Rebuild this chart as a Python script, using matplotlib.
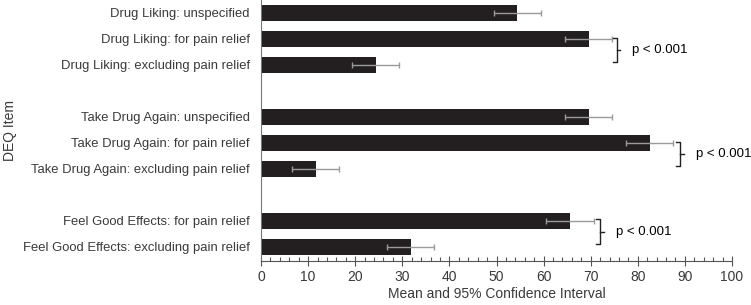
import numpy as np
import matplotlib.pyplot as plt
from matplotlib.ticker import MultipleLocator

plt.rcParams['font.family'] = ['Liberation Sans', 'DejaVu Sans']

# data
labels = ['Drug Liking: unspecified', 'Drug Liking: for pain relief', 'Drug Liking: excluding pain relief',
          'Take Drug Again: unspecified', 'Take Drug Again: for pain relief', 'Take Drug Again: excluding pain relief',
          'Feel Good Effects: for pain relief', 'Feel Good Effects: excluding pain relief']
positions = [0, 1, 2, 4, 5, 6, 8, 9]
means = [54.4, 69.6, 24.4, 69.6, 82.5, 11.6, 65.6, 31.8]
ci_half = [5.0, 5.0, 5.0, 5.0, 5.0, 5.0, 5.1, 5.0]

# brackets: (first bar position, bracket x, text)
bracket_pos = [1, 5, 8]
bracket_x = [75.5, 89.0, 72.0]
bracket_text = ['p < 0.001', 'p < 0.001', 'p < 0.001']

fig = plt.figure(figsize=(7.51, 3.05), dpi=100)
ax = fig.add_axes([261 / 751, 44 / 305, 471 / 751, 261 / 305])

ax.barh(positions, means, height=0.6, color='#231f20')
ax.errorbar(means, positions, xerr=ci_half, fmt='none', ecolor='#9a9a9a',
            elinewidth=1, capsize=2.5, capthick=1)

txt = '#3a3a3a'
ax.set_yticks(positions)
ax.set_yticklabels(labels, fontsize=9.4, color=txt)
ax.tick_params(axis='y', length=0, pad=8)
ax.set_ylim(9.55, -0.5)

ax.set_xlim(0, 100)
ax.xaxis.set_major_locator(MultipleLocator(10))
ax.xaxis.set_minor_locator(MultipleLocator(2))
ax.tick_params(axis='x', which='major', direction='inout', length=7, width=0.8,
               color='#555555', labelsize=10, labelcolor=txt, pad=3)
ax.tick_params(axis='x', which='minor', direction='in', length=3, width=0.8, color='#555555')

for s in ['top', 'right']:
    ax.spines[s].set_visible(False)
ax.spines['left'].set_color('#777777')
ax.spines['bottom'].set_color('#555555')

ax.set_xlabel('Mean and 95% Confidence Interval', fontsize=10, color=txt, labelpad=2)
ax.set_ylabel('DEQ Item', fontsize=10, color=txt)
ax.yaxis.set_label_coords(-0.518, 0.5)

# significance brackets
for p, bx, t in zip(bracket_pos, bracket_x, bracket_text):
    top, bot = p - 0.05, p + 0.9
    mid = (top + bot) / 2
    ax.plot([bx - 0.8, bx, bx, bx - 0.8], [top, top, bot, bot], color='#222222', lw=1, clip_on=False)
    ax.plot([bx, bx + 0.8], [mid, mid], color='#222222', lw=1, clip_on=False)
    ax.text(bx + 3.3, mid, t, fontsize=9.5, va='center', ha='left', color='black', clip_on=False)

fig.savefig('out.png', dpi=100)
